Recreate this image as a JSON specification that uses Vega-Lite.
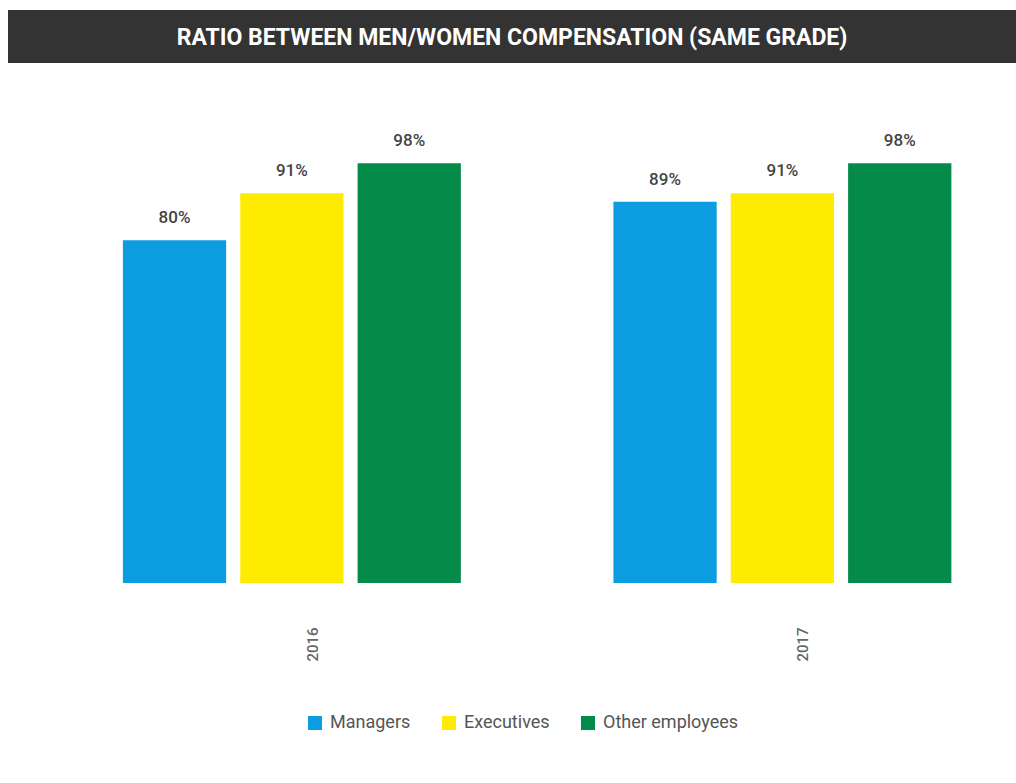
{
  "$schema": "https://vega.github.io/schema/vega-lite/v6.json",
  "padding": {"left": 8, "top": 10, "right": 0, "bottom": 0},
  "background": "white",
  "spacing": 6,
  "config": {"view": {"stroke": null}, "font": "Roboto"},
  "vconcat": [
    {
      "width": 1008,
      "height": 53,
      "view": {"fill": "#333333", "stroke": null},
      "data": {"values": [{"t": "RATIO BETWEEN MEN/WOMEN COMPENSATION (SAME GRADE)"}]},
      "mark": {"type": "text", "color": "white", "font": "Roboto", "fontWeight": "bold", "fontSize": 23, "align": "center", "baseline": "middle", "dy": 1},
      "encoding": {"text": {"field": "t"}}
    },
    {
      "width": 1008,
      "height": 514,
      "data": {"values": [
        {"year": "2016", "category": "Managers", "value": 0.80},
        {"year": "2016", "category": "Executives", "value": 0.91},
        {"year": "2016", "category": "Other employees", "value": 0.98},
        {"year": "2017", "category": "Managers", "value": 0.89},
        {"year": "2017", "category": "Executives", "value": 0.91},
        {"year": "2017", "category": "Other employees", "value": 0.98}
      ]},
      "encoding": {
        "x": {"field": "year", "type": "nominal",
          "scale": {"paddingInner": 0.311, "paddingOuter": 0.183, "align": 0.64},
          "axis": {"title": null, "labelAngle": 270, "domain": false, "ticks": false, "labelPadding": 44, "labelOffset": 21, "labelFontSize": 15, "labelFontWeight": 500, "labelColor": "#666666", "labelFont": "Roboto"}},
        "xOffset": {"field": "category", "type": "nominal", "sort": ["Managers", "Executives", "Other employees"],
          "scale": {"paddingInner": 0.12, "paddingOuter": 0}},
        "y": {"field": "value", "type": "quantitative", "scale": {"domain": [0, 1.2], "nice": false}, "axis": null}
      },
      "layer": [
        {
          "mark": {"type": "bar"},
          "encoding": {
            "color": {"field": "category", "type": "nominal",
              "scale": {"domain": ["Managers", "Executives", "Other employees"], "range": ["#0b9de0", "#feeb02", "#058b49"]},
              "legend": {"orient": "none", "legendX": 298, "legendY": 704, "direction": "horizontal", "title": null, "symbolType": "square", "symbolSize": 196, "symbolStrokeWidth": 0, "labelFontSize": 18, "labelColor": "#555555", "labelFont": "Roboto", "labelOffset": 6, "columnPadding": 29}}
          }
        },
        {
          "mark": {"type": "text", "baseline": "bottom", "dy": -13, "fontSize": 17, "fontWeight": 500, "color": "#444444", "font": "Roboto"},
          "encoding": {"text": {"field": "value", "type": "quantitative", "format": ".0%"}}
        }
      ]
    }
  ]
}
